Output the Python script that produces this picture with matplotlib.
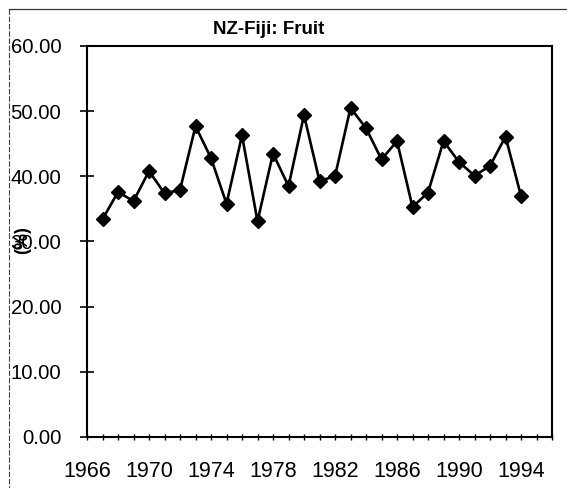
import matplotlib
matplotlib.use("Agg")
import matplotlib.pyplot as plt
from matplotlib.lines import Line2D
from matplotlib.ticker import FormatStrFormatter, MultipleLocator

plt.rcParams['font.family'] = ['Liberation Sans', 'DejaVu Sans']

title = "NZ-Fiji: Fruit"
y_label = "(%)"
years = list(range(1967, 1995))
values = [33.4, 37.6, 36.2, 40.8, 37.4, 37.9, 47.7, 42.8, 35.8, 46.3,
          33.1, 43.5, 38.5, 49.4, 39.3, 40.0, 50.5, 47.4, 42.6, 45.4,
          35.3, 37.5, 45.4, 42.2, 40.1, 41.6, 46.1, 37.0]
x_major = list(range(1966, 1995, 4))

W, H = 567, 488
fig = plt.figure(figsize=(W / 100, H / 100), dpi=100)
ax = fig.add_axes([87 / W, 1 - 437 / H, (552 - 87) / W, (437 - 46) / H])

ax.plot(years, values, color='black', lw=1.9, marker='D', ms=7.5,
        mfc='black', mec='black', zorder=3, clip_on=False)

ax.set_xlim(1966, 1996)
ax.set_ylim(0, 60)
ax.set_xticks(x_major)
ax.xaxis.set_minor_locator(MultipleLocator(1))
ax.yaxis.set_major_locator(MultipleLocator(10))
ax.yaxis.set_major_formatter(FormatStrFormatter('%.2f'))

for s in ax.spines.values():
    s.set_linewidth(1.5)
    s.set_color('black')

ax.tick_params(axis='y', which='major', direction='inout', length=10, width=1.2,
               labelsize=14.7, pad=13.5)
ax.tick_params(axis='x', which='both', direction='inout', length=5, width=1.0,
               labelsize=15.5, pad=15)

fig.text(269 / W, 1 - 29 / H, title, ha='center', va='center',
         fontsize=13.5, fontweight='bold')
fig.text(23 / W, 1 - 240 / H, y_label, ha='center', va='center',
         rotation=90, fontsize=13, fontweight='bold')

# chart-area border (left and top edges visible)
fig.add_artist(Line2D([9 / W, 9 / W], [1 - 9 / H, 0], transform=fig.transFigure,
                      color='#444444', lw=0.8, ls=(0, (5, 1.5))))
fig.add_artist(Line2D([9 / W, 1], [1 - 9 / H, 1 - 9 / H], transform=fig.transFigure,
                      color='#333333', lw=0.9))

fig.savefig("out.png", dpi=100)
